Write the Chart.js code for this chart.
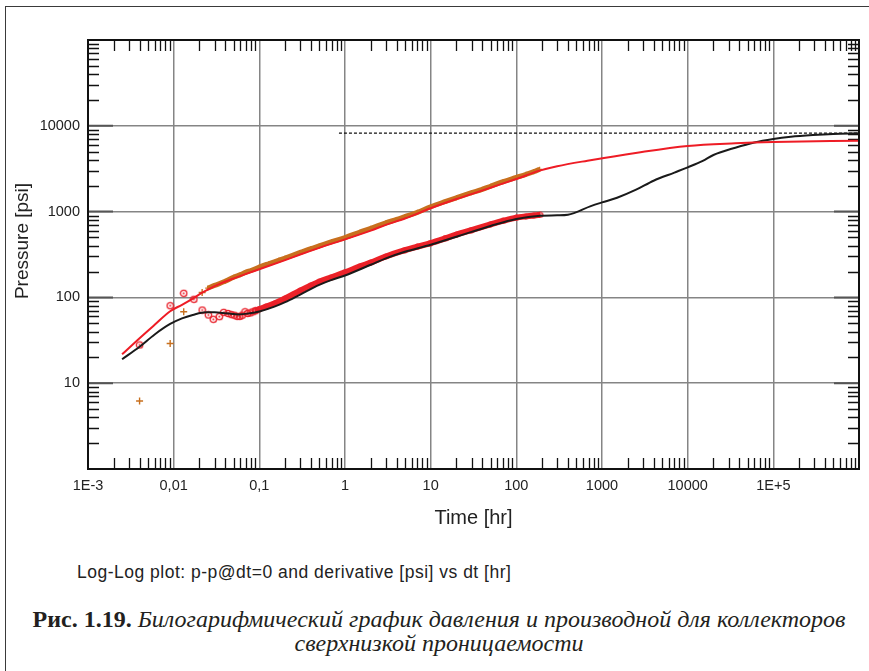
<!DOCTYPE html>
<html>
<head>
<meta charset="utf-8">
<title>Log-Log plot</title>
<script src="https://cdn.jsdelivr.net/npm/chart.js@4.4.1/dist/chart.umd.min.js"></script>
<style type="text/css">
  body { margin: 0; background: #fff; }
  #page { position: relative; width: 869px; height: 671px; overflow: hidden; }
  #frame {
    position: absolute; left: 5px; top: 6px; width: 900px; height: 700px;
    border-top: 1.5px solid #3a3a3a; border-left: 1.5px solid #3a3a3a;
  }
  #chart-container { position: absolute; left: 0; top: 0; width: 869px; height: 530px; }
  #note {
    position: absolute; left: 77px; top: 562px; white-space: nowrap;
    font: 17.5px/20px "Liberation Sans", Arial, sans-serif; letter-spacing: 0.5px; color: #222;
  }
  #caption {
    position: absolute; left: 0; top: 607px; width: 878px; text-align: center; white-space: nowrap;
    font: 24px/24px "Liberation Serif", "Times New Roman", serif; color: #231f20;
  }
  #caption b { font-weight: bold; }
</style>
<script>
// axis decades and their labels
var timeTicks = [1e-3, 1e-2, 0.1, 1, 10, 100, 1e3, 1e4, 1e5, 1e6];
var timeLabels = ['1E-3', '0,01', '0,1', '1', '10', '100', '1000', '10000', '1E+5', ''];
var pressureTicks = [1, 10, 100, 1000, 10000, 100000];
var pressureLabels = ['', '10', '100', '1000', '10000', ''];

// measured p-p@dt=0, first few points
var dpEarlyT = [0.004, 0.0091, 0.0131, 0.0215];
var dpEarly = [6.2, 29, 68, 114];
// measured p-p@dt=0, dense record
var dpT = [0.025, 0.03, 0.04, 0.05, 0.06, 0.07, 0.08, 0.1, 0.13, 0.17, 0.2, 0.3, 0.4, 0.5, 0.7,
           1, 1.5, 2, 3, 4, 5, 7, 10, 15, 20, 30, 40, 50, 70, 100, 130, 160, 187];
var dp = [128, 138, 154, 172, 184, 197, 206, 226, 248, 272, 288, 334, 370, 398, 446,
          498, 578, 638, 740, 810, 875, 980, 1140, 1315, 1450, 1660, 1820, 1975, 2230, 2500, 2720, 2920, 3110];

// measured derivative, first points
var derEarlyT = [0.004, 0.0091, 0.0131, 0.0172, 0.0215, 0.0254, 0.029, 0.0341, 0.0383, 0.043,
                 0.047, 0.051, 0.055, 0.059, 0.063, 0.068, 0.073, 0.078, 0.084, 0.09];
var derEarly = [27.9, 80, 111.6, 95, 71.3, 62.4, 55.6, 59.6, 67, 65,
                63, 62, 60, 60, 62, 68, 65, 66, 68, 70];
// measured derivative, dense record
var derT = [0.09, 0.1, 0.12, 0.15, 0.2, 0.3, 0.4, 0.5, 0.7, 1, 1.5, 2, 3, 5, 7,
            10, 15, 20, 30, 50, 70, 100, 130, 160, 190];
var der = [70, 73, 78, 85, 97, 120, 138, 152, 172, 196, 230, 255, 300, 355, 390,
           430, 490, 540, 610, 710, 780, 850, 880, 900, 915];

// model pressure
var modelT = [0.0025, 0.004, 0.006, 0.0091, 0.0125, 0.0167, 0.021, 0.026, 0.035, 0.05, 0.07, 0.1,
              0.2, 0.3, 0.5, 1, 2, 3, 5, 10, 20, 30, 50, 100, 187, 300, 676, 2580,
              1e4, 3.6e4, 1e5, 1e6];
var modelDp = [21.7, 33.5, 48, 69, 82, 97, 112, 126, 145, 166, 188, 213,
               272, 316, 378, 475, 600, 700, 830, 1094, 1400, 1600, 1900, 2400, 3000, 3380, 3920, 4860,
               5820, 6250, 6470, 6700];

// model derivative
var modelDerT = [0.0025, 0.004, 0.006, 0.0091, 0.0125, 0.0167, 0.024, 0.03, 0.041, 0.058, 0.075, 0.1,
                 0.15, 0.2, 0.3, 0.5, 0.7, 1, 2, 3, 5, 10, 20, 30, 50, 100, 190, 300, 400, 740,
                 1000, 1500, 2500, 4000, 7000, 1e4, 1.5e4, 2e4, 3.6e4, 6e4, 1e5, 1.6e5, 2.9e5, 5e5, 1e6];
var modelDer = [19, 26.6, 37, 49, 57, 62.4, 67, 67, 65.3, 63.3, 65, 68.5,
                78, 88, 108, 140, 160, 180, 240, 285, 340, 410, 510, 580, 680, 820, 895, 905, 920, 1160,
                1280, 1450, 1800, 2290, 2850, 3280, 3900, 4570, 5560, 6400, 7020, 7450, 7810, 8050, 8200];

// stabilised pressure level
var levelT = [0.85, 1e6];
var levelP = [8200, 8200];

function pts(xs, ys) {
  return xs.map(function(x, i) { return {x: x, y: ys[i]}; });
}

// ring with a centre dot for the derivative points
function ringMarker(size, r) {
  var c = document.createElement('canvas');
  c.width = size; c.height = size;
  var g = c.getContext('2d');
  var m = size / 2;
  g.strokeStyle = '#e8202a';
  g.lineWidth = 1.3;
  g.beginPath(); g.arc(m, m, r, 0, Math.PI * 2); g.stroke();
  g.fillStyle = '#e8202a';
  g.beginPath(); g.arc(m, m, 1, 0, Math.PI * 2); g.fill();
  return c;
}

// frame, inner minor ticks and y title
var logFrame = {
  id: 'logFrame',
  beforeDatasetsDraw: function(chart) {
    var ctx = chart.ctx, a = chart.chartArea;
    var xs = chart.scales.x, ys = chart.scales.y;
    ctx.save();
    ctx.strokeStyle = '#111';
    ctx.lineWidth = 1.3;
    ctx.beginPath();
    timeTicks.slice(0, -1).forEach(function(d) {
      for (var m = 2; m < 10; m++) {
        var px = Math.round(xs.getPixelForValue(d * m)) + 0.5;
        ctx.moveTo(px, a.bottom); ctx.lineTo(px, a.bottom - 11);
        ctx.moveTo(px, a.top); ctx.lineTo(px, a.top + 11);
      }
    });
    pressureTicks.slice(0, -1).forEach(function(d) {
      for (var m = 2; m < 10; m++) {
        var py = Math.round(ys.getPixelForValue(d * m)) + 0.5;
        ctx.moveTo(a.left, py); ctx.lineTo(a.left + 11, py);
        ctx.moveTo(a.right, py); ctx.lineTo(a.right - 11, py);
      }
    });
    ctx.stroke();
    ctx.strokeStyle = '#555';
    ctx.lineWidth = 2;
    ctx.beginPath();
    pressureTicks.forEach(function(d) {
      var py = ys.getPixelForValue(d);
      ctx.moveTo(a.left, py); ctx.lineTo(a.left + 25, py);
      ctx.moveTo(a.right, py); ctx.lineTo(a.right - 25, py);
    });
    ctx.stroke();
    ctx.restore();
  },
  afterDraw: function(chart) {
    var ctx = chart.ctx, a = chart.chartArea;
    ctx.save();
    ctx.strokeStyle = '#111';
    ctx.lineWidth = 2;
    ctx.strokeRect(a.left, a.top, a.right - a.left, a.bottom - a.top);
    ctx.translate(23, 241);
    ctx.rotate(-Math.PI / 2);
    ctx.fillStyle = '#222';
    ctx.font = '19px "Liberation Sans", Arial, sans-serif';
    ctx.textAlign = 'center';
    ctx.textBaseline = 'middle';
    ctx.fillText('Pressure [psi]', 0, 0);
    ctx.restore();
  }
};

window.onload = function() {
  var cross = {pointStyle: 'cross', pointRadius: 3.5, pointBorderWidth: 1.4, borderColor: '#c8701e'};
  var ring = ringMarker(9, 3.2);
  var smallRing = ringMarker(7, 2.4);

  new Chart(document.getElementById('mycanvas'), {
    type: 'scatter',
    data: {
      datasets: [
        { label: 'model', data: pts(modelT, modelDp), showLine: true, borderColor: '#ee1c25',
          borderWidth: 2, pointRadius: 0, cubicInterpolationMode: 'monotone' },
        { label: 'model derivative', data: pts(modelDerT, modelDer), showLine: true, borderColor: '#1a1a1a',
          borderWidth: 2, pointRadius: 0, cubicInterpolationMode: 'monotone' },
        { label: 'level', data: pts(levelT, levelP), showLine: true, borderColor: '#111',
          borderWidth: 1.2, borderDash: [3, 2], pointRadius: 0 },
        Object.assign({ label: 'dp early', data: pts(dpEarlyT, dpEarly), showLine: false }, cross),
        { label: 'derivative early', data: pts(derEarlyT, derEarly), showLine: false,
          pointStyle: ring, pointRadius: 4.5 },
        { label: 'dp', data: pts(dpT, dp), showLine: true, borderWidth: 5, borderColor: '#c8701e',
          cubicInterpolationMode: 'monotone', pointStyle: 'cross', pointRadius: 2.5, pointBorderWidth: 1.2 },
        { label: 'derivative', data: pts(derT, der), showLine: true, borderColor: '#ec2228',
          borderWidth: 6, cubicInterpolationMode: 'monotone', pointStyle: smallRing, pointRadius: 3.5 }
      ]
    },
    options: {
      responsive: false,
      animation: false,
      devicePixelRatio: 1,
      layout: { padding: { left: 0, right: 6, top: 40, bottom: 0 } },
      plugins: { legend: { display: false }, tooltip: { enabled: false } },
      scales: {
        x: {
          type: 'logarithmic', min: 1e-3, max: 1e6,
          afterBuildTicks: function(scale) {
            scale.ticks = timeTicks.map(function(v) { return {value: v}; });
          },
          afterFit: function(scale) { scale.height = 61; },
          grid: { color: '#858585', lineWidth: 1.5, drawTicks: false },
          border: { display: false },
          ticks: {
            autoSkip: false, maxRotation: 0, padding: 8, color: '#222',
            font: { family: '"Liberation Sans", Arial, sans-serif', size: 14.5 },
            callback: function(v, i) { return timeLabels[i]; }
          },
          title: {
            display: true, text: 'Time [hr]', color: '#222', padding: { top: 0, bottom: 0 },
            font: { family: '"Liberation Sans", Arial, sans-serif', size: 20 }
          }
        },
        y: {
          type: 'logarithmic', min: 1, max: 1e5,
          afterBuildTicks: function(scale) {
            scale.ticks = pressureTicks.map(function(v) { return {value: v}; });
          },
          afterFit: function(scale) { scale.width = 88; },
          grid: { color: '#858585', lineWidth: 1.5, drawTicks: false },
          border: { display: false },
          ticks: {
            autoSkip: false, padding: 8, color: '#222',
            font: { family: '"Liberation Sans", Arial, sans-serif', size: 14.5 },
            callback: function(v, i) { return pressureLabels[i]; }
          }
        }
      }
    },
    plugins: [logFrame]
  });
};
</script>
</head>
<body>
<div id="page">
  <div id="frame"></div>
  <div id="chart-container">
    <canvas id="mycanvas" width="869" height="530"></canvas>
  </div>
  <div id="note">Log-Log plot: p-p@dt=0 and derivative [psi] vs dt [hr]</div>
  <div id="caption"><b>Рис. 1.19.</b> <i>Билогарифмический график давления и производной для коллекторов<br>сверхнизкой проницаемости</i></div>
</div>
</body>
</html>
